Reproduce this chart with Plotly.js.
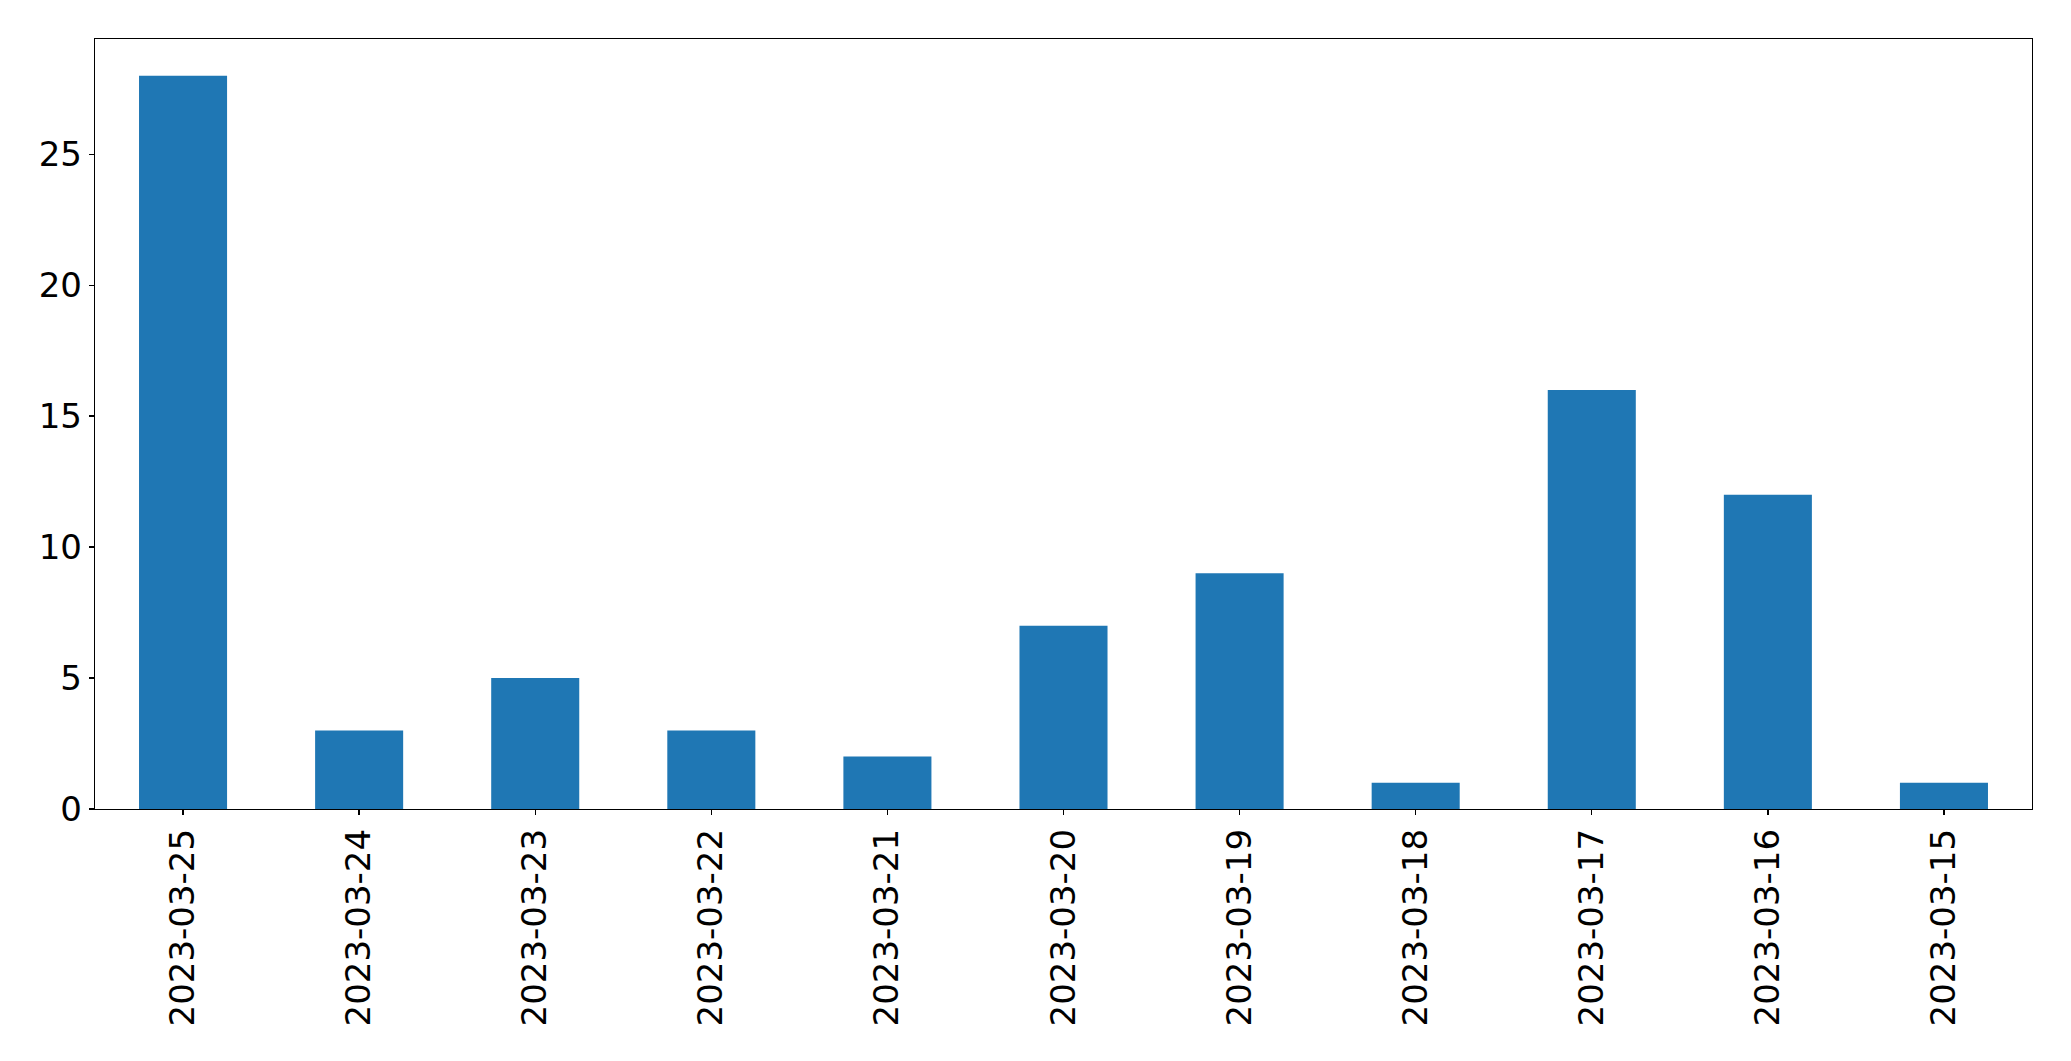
<!DOCTYPE html>
<html>
<head>
<meta charset="utf-8">
<script src="https://cdn.plot.ly/plotly-3.0.1.min.js"></script>
<style>html,body{margin:0;padding:0;background:#fff;}#chart{width:2071px;height:1061px;}</style>
</head>
<body>
<div id="chart"></div>
<script>
const dates = ["2023-03-25","2023-03-24","2023-03-23","2023-03-22","2023-03-21","2023-03-20","2023-03-19","2023-03-18","2023-03-17","2023-03-16","2023-03-15"];
const counts = [28,3,5,3,2,7,9,1,16,12,1];
const yTicks = [0,5,10,15,20,25];

const trace = {
  type: "bar",
  x: dates,
  y: counts,
  width: 0.5,
  marker: {color: "#1f77b4", line: {width: 0}},
  hoverinfo: "x+y"
};

const layout = {
  width: 2071,
  height: 1061,
  margin: {l: 95, r: 39, t: 39, b: 252, pad: 0},
  paper_bgcolor: "#fff",
  plot_bgcolor: "#fff",
  font: {family: "DejaVu Sans", size: 34, color: "#000"},
  showlegend: false,
  bargap: 0.5,
  xaxis: {
    type: "category",
    range: [-0.5, 10.5],
    tickangle: -90,
    showline: true, mirror: true, linecolor: "#000", linewidth: 1.3,
    ticks: "outside", ticklen: 5, tickwidth: 1.3, tickcolor: "#000",
    showgrid: false, zeroline: false,
    tickfont: {family: "DejaVu Sans", size: 34, color: "#000"}
  },
  yaxis: {
    range: [0, 29.4],
    tickvals: yTicks,
    ticktext: yTicks.map(String),
    showline: true, mirror: true, linecolor: "#000", linewidth: 1.3,
    ticks: "outside", ticklen: 5, tickwidth: 1.3, tickcolor: "#000",
    showgrid: false, zeroline: false,
    tickfont: {family: "DejaVu Sans", size: 34, color: "#000"}
  }
};

Plotly.newPlot("chart", [trace], layout, {displayModeBar: false, staticPlot: true});
</script>
</body>
</html>
